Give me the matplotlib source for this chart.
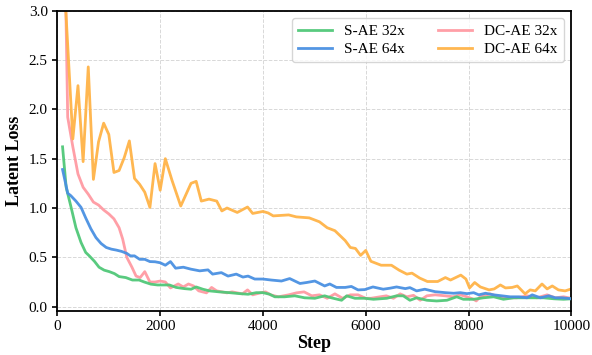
import matplotlib
matplotlib.use('Agg')
import matplotlib.pyplot as plt

# S-AE 32x
sae32_step = [100, 170, 260, 360, 460, 550, 620, 720, 810, 910, 1010, 1110, 1200, 1330, 1460, 1590,
              1690, 1820, 1950, 2070, 2180, 2310, 2470, 2600, 2700, 2830, 2960, 3150, 3350, 3550, 3710,
              3870, 4000, 4130, 4230, 4420, 4620, 4810, 5010, 5200, 5330, 5530, 5630, 5790, 5980, 6150,
              6410, 6600, 6730, 6860, 6990, 7190, 7380, 7580, 7770, 7900, 8100, 8290, 8490, 8680, 8880,
              9070, 9270, 9460, 9660, 9850, 10000]
sae32_loss = [1.62, 1.21, 1.02, 0.80, 0.65, 0.55, 0.515, 0.46, 0.40, 0.37, 0.355, 0.335, 0.305, 0.295,
              0.27, 0.27, 0.25, 0.228, 0.22, 0.22, 0.22, 0.195, 0.183, 0.177, 0.20, 0.177, 0.16, 0.15,
              0.142, 0.132, 0.126, 0.142, 0.142, 0.126, 0.10, 0.10, 0.11, 0.09, 0.085, 0.11, 0.09, 0.065,
              0.11, 0.085, 0.085, 0.075, 0.085, 0.11, 0.11, 0.065, 0.09, 0.065, 0.058, 0.065, 0.10,
              0.075, 0.075, 0.09, 0.10, 0.075, 0.09, 0.09, 0.09, 0.09, 0.08, 0.075, 0.08]

# S-AE 64x
sae64_step = [100, 200, 260, 360, 460, 550, 650, 750, 850, 950, 1050, 1150, 1250, 1350, 1420, 1500,
              1600, 1700, 1800, 1900, 2000, 2100, 2200, 2300, 2450, 2600, 2770, 2930, 3020, 3190, 3320,
              3480, 3610, 3710, 3840, 4000, 4160, 4360, 4520, 4720, 4850, 5010, 5200, 5300, 5430, 5600,
              5720, 5850, 5980, 6140, 6340, 6470, 6600, 6770, 6860, 6990, 7150, 7350, 7550, 7710, 7840,
              7970, 8100, 8200, 8330, 8490, 8650, 8810, 8980, 9140, 9240, 9400, 9560, 9690, 9820, 10000]
sae64_loss = [1.39, 1.15, 1.125, 1.07, 1.006, 0.90, 0.79, 0.70, 0.64, 0.60, 0.583, 0.573, 0.56, 0.54,
              0.515, 0.515, 0.48, 0.48, 0.457, 0.455, 0.445, 0.42, 0.457, 0.39, 0.40, 0.38, 0.363, 0.373,
              0.33, 0.345, 0.31, 0.33, 0.30, 0.31, 0.28, 0.28, 0.27, 0.26, 0.285, 0.235, 0.245, 0.26,
              0.21, 0.23, 0.195, 0.195, 0.205, 0.17, 0.173, 0.20, 0.177, 0.187, 0.20, 0.183, 0.193, 0.16,
              0.177, 0.152, 0.142, 0.136, 0.142, 0.132, 0.142, 0.12, 0.136, 0.12, 0.11, 0.10, 0.10,
              0.09, 0.12, 0.09, 0.11, 0.09, 0.09, 0.08]

# DC-AE 32x
dc32_step = [100, 200, 300, 400, 500, 600, 700, 800, 900, 1000, 1100, 1200, 1270, 1350, 1450, 1530,
             1610, 1700, 1800, 1900, 2000, 2100, 2200, 2350, 2450, 2550, 2650, 2750, 2900, 3000, 3100,
             3300, 3400, 3600, 3700, 3800, 3950, 4050, 4150, 4300, 4500, 4650, 4800, 4950, 5100, 5250,
             5400, 5550, 5700, 5850, 6000, 6100, 6280, 6400, 6540, 6670, 6800, 6930, 7060, 7190, 7350,
             7550, 7700, 7840, 7970, 8100, 8150, 8230, 8420, 8590, 8750, 8940, 9140, 9330, 9530, 9690,
             9850, 10000]
dc32_loss = [5.0, 1.92, 1.62, 1.345, 1.21, 1.14, 1.06, 1.03, 0.98, 0.94, 0.89, 0.80, 0.685, 0.50, 0.40,
             0.31, 0.295, 0.355, 0.25, 0.25, 0.26, 0.25, 0.19, 0.23, 0.20, 0.23, 0.21, 0.16, 0.14, 0.195,
             0.16, 0.14, 0.15, 0.13, 0.17, 0.12, 0.14, 0.15, 0.12, 0.10, 0.12, 0.14, 0.15, 0.11, 0.12,
             0.085, 0.13, 0.085, 0.12, 0.12, 0.085, 0.085, 0.10, 0.11, 0.085, 0.13, 0.10, 0.115, 0.065,
             0.11, 0.12, 0.11, 0.10, 0.12, 0.10, 0.075, 0.058, 0.10, 0.13, 0.10, 0.09, 0.09, 0.11, 0.09,
             0.12, 0.09, 0.10, 0.085]

# DC-AE 64x
dc64_step = [100, 300, 400, 500, 600, 700, 800, 900, 1000, 1100, 1200, 1300, 1400, 1500, 1600, 1700,
             1800, 1900, 2000, 2100, 2230, 2400, 2600, 2700, 2800, 2950, 3100, 3200, 3300, 3500, 3700,
             3800, 4000, 4100, 4200, 4500, 4650, 4900, 5100, 5250, 5400, 5600, 5700, 5800, 5900, 6000,
             6100, 6300, 6500, 6650, 6800, 6900, 7050, 7200, 7400, 7550, 7650, 7850, 7950, 8020, 8120,
             8230, 8400, 8500, 8620, 8720, 8850, 8950, 9100, 9200, 9300, 9430, 9530, 9630, 9750, 9880,
             10000]
dc64_loss = [3.6, 1.70, 2.24, 1.47, 2.43, 1.29, 1.67, 1.86, 1.745, 1.36, 1.38, 1.51, 1.68, 1.30, 1.24,
             1.16, 1.006, 1.45, 1.18, 1.50, 1.28, 1.02, 1.25, 1.27, 1.07, 1.09, 1.07, 0.97, 1.00, 0.955,
             1.01, 0.945, 0.965, 0.95, 0.92, 0.93, 0.91, 0.90, 0.86, 0.80, 0.77, 0.67, 0.60, 0.59, 0.52,
             0.57, 0.46, 0.42, 0.42, 0.37, 0.33, 0.34, 0.29, 0.255, 0.255, 0.295, 0.27, 0.32, 0.28, 0.19,
             0.245, 0.20, 0.17, 0.18, 0.22, 0.19, 0.195, 0.21, 0.13, 0.17, 0.16, 0.23, 0.18, 0.21, 0.17,
             0.16, 0.18]

plt.rcParams['font.family'] = ['Liberation Serif', 'DejaVu Serif']
plt.rcParams['mathtext.fontset'] = 'stix'

fig, ax = plt.subplots(figsize=(5.92, 3.55), dpi=100)
fig.subplots_adjust(left=0.097, right=0.965, top=0.97, bottom=0.125)

lw = 2.0
ax.plot(sae32_step, sae32_loss, color='#50C878', lw=lw, alpha=0.95, label='S-AE 32x', zorder=3)
ax.plot(sae64_step, sae64_loss, color='#4A90E2', lw=lw, alpha=0.95, label='S-AE 64x', zorder=3)
ax.plot(dc32_step, dc32_loss, color='#FF9AA2', lw=lw, alpha=0.95, label='DC-AE 32x', zorder=2)
ax.plot(dc64_step, dc64_loss, color='#FFB347', lw=lw, alpha=0.95, label='DC-AE 64x', zorder=2)

ax.set_xlim(0, 10000)
ax.set_ylim(-0.04, 3.0)
ax.set_xticks([0, 2000, 4000, 6000, 8000, 10000])
ax.set_yticks([0.0, 0.5, 1.0, 1.5, 2.0, 2.5, 3.0])
ax.set_yticklabels(['%.1f' % v for v in ax.get_yticks()])
ax.tick_params(labelsize=11, width=1.2, length=3.5)
ax.set_xlabel('Step', fontsize=13, fontweight='bold', labelpad=1)
ax.set_ylabel('Latent Loss', fontsize=13, fontweight='bold', labelpad=4)
ax.grid(True, linestyle='--', color='#d8d8d8', linewidth=0.7, zorder=0)
for s in ax.spines.values():
    s.set_linewidth(1.3)

ax.legend(ncol=2, loc='upper right', fontsize=11, frameon=True, edgecolor='#cccccc',
          handlelength=2.2, columnspacing=2.2, borderaxespad=0.5, labelspacing=0.3)

fig.savefig('out.png', dpi=100)
